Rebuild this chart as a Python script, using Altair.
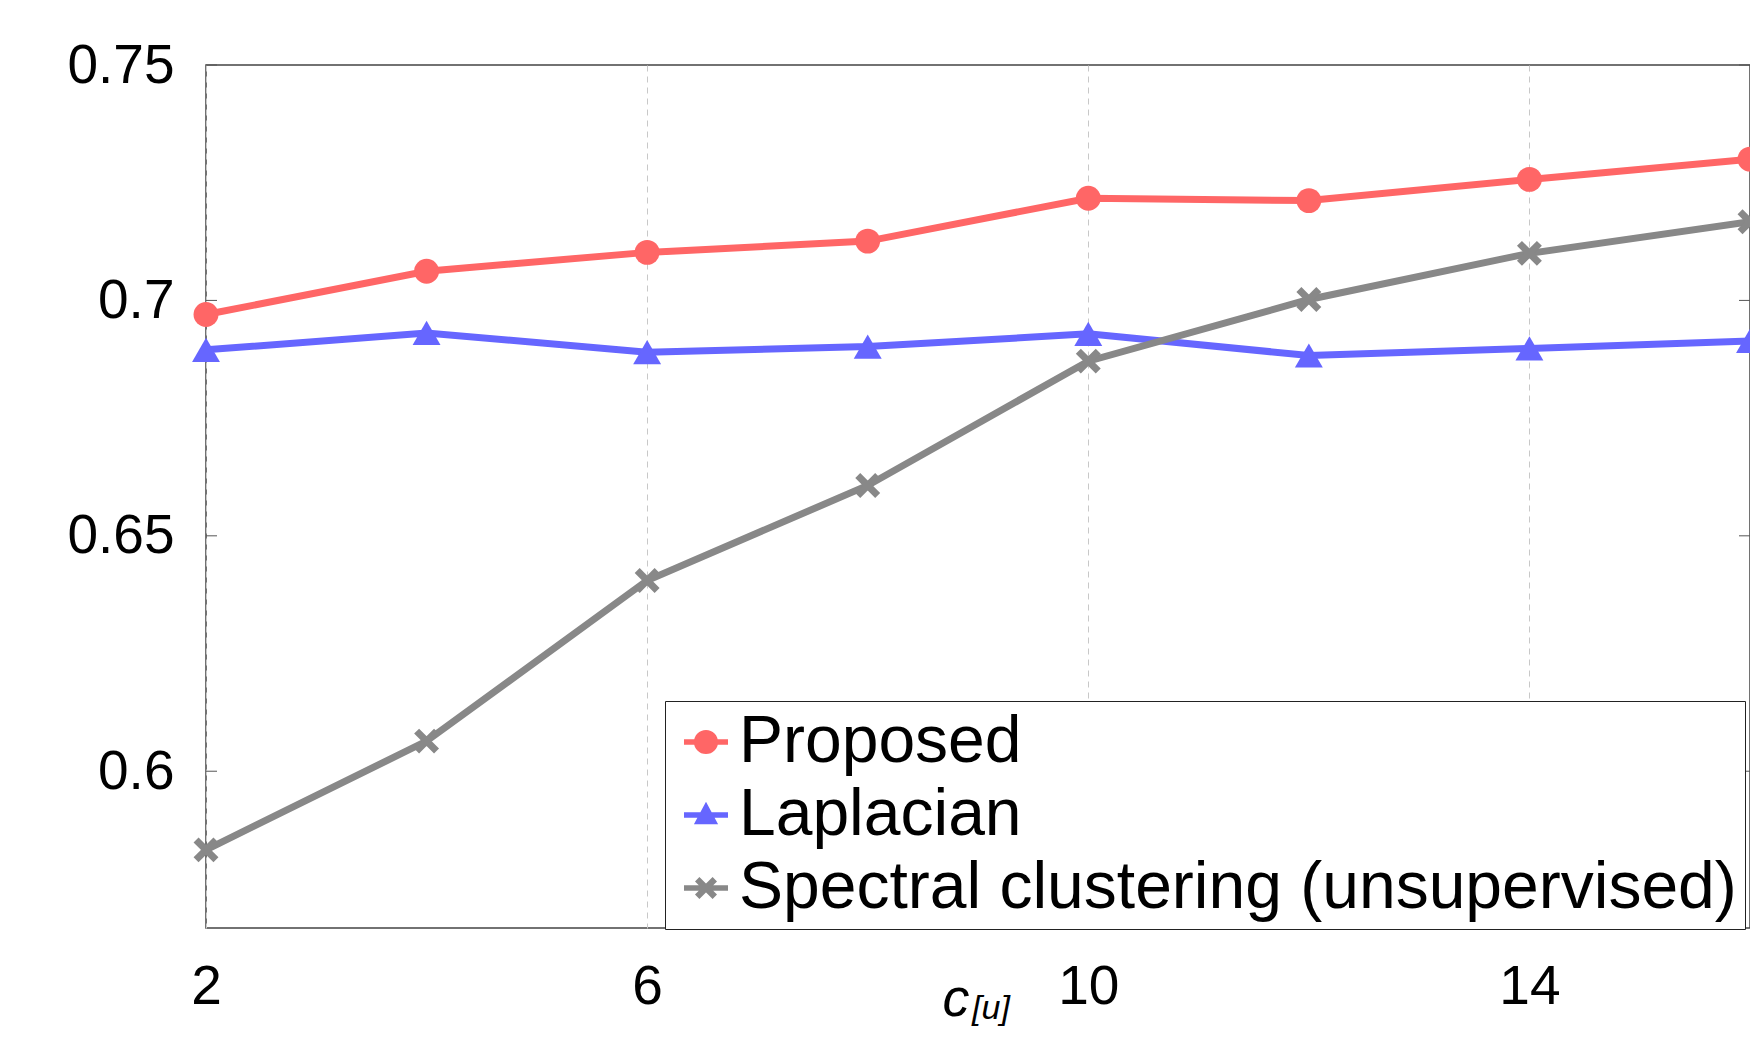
import altair as alt
import pandas as pd

# ---- data ----
x_vals = [2, 4, 6, 8, 10, 12, 14, 16]
proposed = [0.6970, 0.7062, 0.7102, 0.7126, 0.7217, 0.7212, 0.7257, 0.7300]
laplacian = [0.6895, 0.6931, 0.6890, 0.6902, 0.6929, 0.6883, 0.6898, 0.6914]
spectral = [0.5833, 0.6064, 0.6405, 0.6607, 0.6871, 0.7002, 0.7100, 0.7167]
series_names = ["Proposed", "Laplacian", "Spectral clustering (unsupervised)"]
series_colors = ["#FF6666", "#6666FF", "#888888"]
x_ticks = [2, 6, 10, 14]
y_ticks = [0.6, 0.65, 0.7, 0.75]
x_title = "c"
x_title_sub = "[u]"

rows = []
for name, vals in zip(series_names, [proposed, laplacian, spectral]):
    for xv, v in zip(x_vals, vals):
        rows.append({"c": xv, "value": v, "series": name})
df = pd.DataFrame(rows)
tick_df = pd.DataFrame({"t": y_ticks})

W, H = 1544, 863
FONT = "Liberation Sans"

xscale = alt.Scale(domain=[2, 16], nice=False, zero=False)
yscale = alt.Scale(domain=[0.5667, 0.75], nice=False, zero=False)
cscale = alt.Scale(domain=series_names, range=series_colors)

X_PATH = "M-0.6,-1L1,0.6L0.6,1L-1,-0.6Z M0.6,-1L1,-0.6L-0.6,1L-1,0.6Z"
BAR = "M-1,-0.13L1,-0.13L1,0.13L-1,0.13Z "
LEG_SHAPES = [
    BAR + "M0.55,0A0.55,0.55 0 1,1 -0.55,0A0.55,0.55 0 1,1 0.55,0Z",
    BAR + "M0,-0.6L0.55,0.42L-0.55,0.42Z",
    BAR + "M-0.3,-0.5L0.5,0.3L0.3,0.5L-0.5,-0.3Z M0.3,-0.5L0.5,-0.3L-0.3,0.5L-0.5,0.3Z",
]

xaxis = alt.Axis(values=x_ticks, grid=True, gridDash=[6, 5], gridColor="#c8c8c8",
                 gridWidth=1, domain=False, ticks=False, tickSize=0, labelFontSize=55,
                 labelPadding=32, labelColor="black", labelFont=FONT, title=None,
                 labelFlush=False, format="d")
yaxis = alt.Axis(values=y_ticks, grid=False, domain=False, ticks=False, tickSize=0,
                 labelFontSize=55, labelPadding=32, labelColor="black", labelFont=FONT,
                 labelExpr="toString(datum.value)", title=None)

base = alt.Chart(df)

line_layers = []
point_layers = []
shapes = ["circle", "triangle-up", X_PATH]
sizes = [620, 780, 620]
for i, (name, col, shp, sz) in enumerate(zip(series_names, series_colors, shapes, sizes)):
    sub = base.transform_filter(alt.datum.series == name)
    if i == 0:
        enc_x = alt.X("c:Q", scale=xscale, axis=xaxis)
        enc_y = alt.Y("value:Q", scale=yscale, axis=yaxis)
    else:
        enc_x = alt.X("c:Q", scale=xscale)
        enc_y = alt.Y("value:Q", scale=yscale)
    line_layers.append(sub.mark_line(strokeWidth=7, color=col).encode(x=enc_x, y=enc_y))
    point_layers.append(
        sub.mark_point(shape=shp, filled=True, size=sz, opacity=1, color=col).encode(
            x=alt.X("c:Q", scale=xscale), y=alt.Y("value:Q", scale=yscale))
    )

leg = alt.Legend(title=None, orient="none", legendX=459, legendY=636,
                 strokeColor="#222", fillColor="white", padding=8,
                 labelFontSize=66, labelFont=FONT, labelColor="black",
                 labelLimit=3000, symbolSize=1936, rowPadding=7, labelOffset=0,
                 symbolStrokeWidth=0, symbolOpacity=1, direction="vertical")

legend_layer = base.mark_point(filled=True, opacity=0, size=10).encode(
    x=alt.X("c:Q", scale=xscale),
    y=alt.Y("value:Q", scale=yscale),
    color=alt.Color("series:N", scale=cscale, legend=leg),
    shape=alt.Shape("series:N", scale=alt.Scale(domain=series_names, range=LEG_SHAPES), legend=leg),
)

ticks_left = alt.Chart(tick_df).mark_rule(color="#555", strokeWidth=1).encode(
    y=alt.Y("t:Q", scale=yscale), x=alt.value(0), x2=alt.value(11))
ticks_right = alt.Chart(tick_df).mark_rule(color="#555", strokeWidth=1).encode(
    y=alt.Y("t:Q", scale=yscale), x=alt.value(W - 11), x2=alt.value(W))

title_df = pd.DataFrame({"txt": [x_title]})
sub_df = pd.DataFrame({"txt": [x_title_sub]})
title_c = alt.Chart(title_df).mark_text(font=FONT, fontSize=54, fontStyle="italic",
                                        color="black", align="center", baseline="middle").encode(
    text="txt:N", x=alt.value(750), y=alt.value(935))
title_sub = alt.Chart(sub_df).mark_text(font=FONT, fontSize=34, fontStyle="italic",
                                        color="black", align="center", baseline="middle").encode(
    text="txt:N", x=alt.value(785), y=alt.value(944))

chart = alt.layer(
    *line_layers, *point_layers, legend_layer, ticks_left, ticks_right, title_c, title_sub
).properties(
    width=W, height=H,
    autosize=alt.AutoSizeParams(type="none"),
    padding={"left": 198, "top": 57, "right": 0, "bottom": 100},
).configure(
    font=FONT, background="white"
).configure_view(
    stroke="#444", strokeWidth=1.5
)

chart.save("out.html", embed_options={"renderer": "svg", "actions": False})
